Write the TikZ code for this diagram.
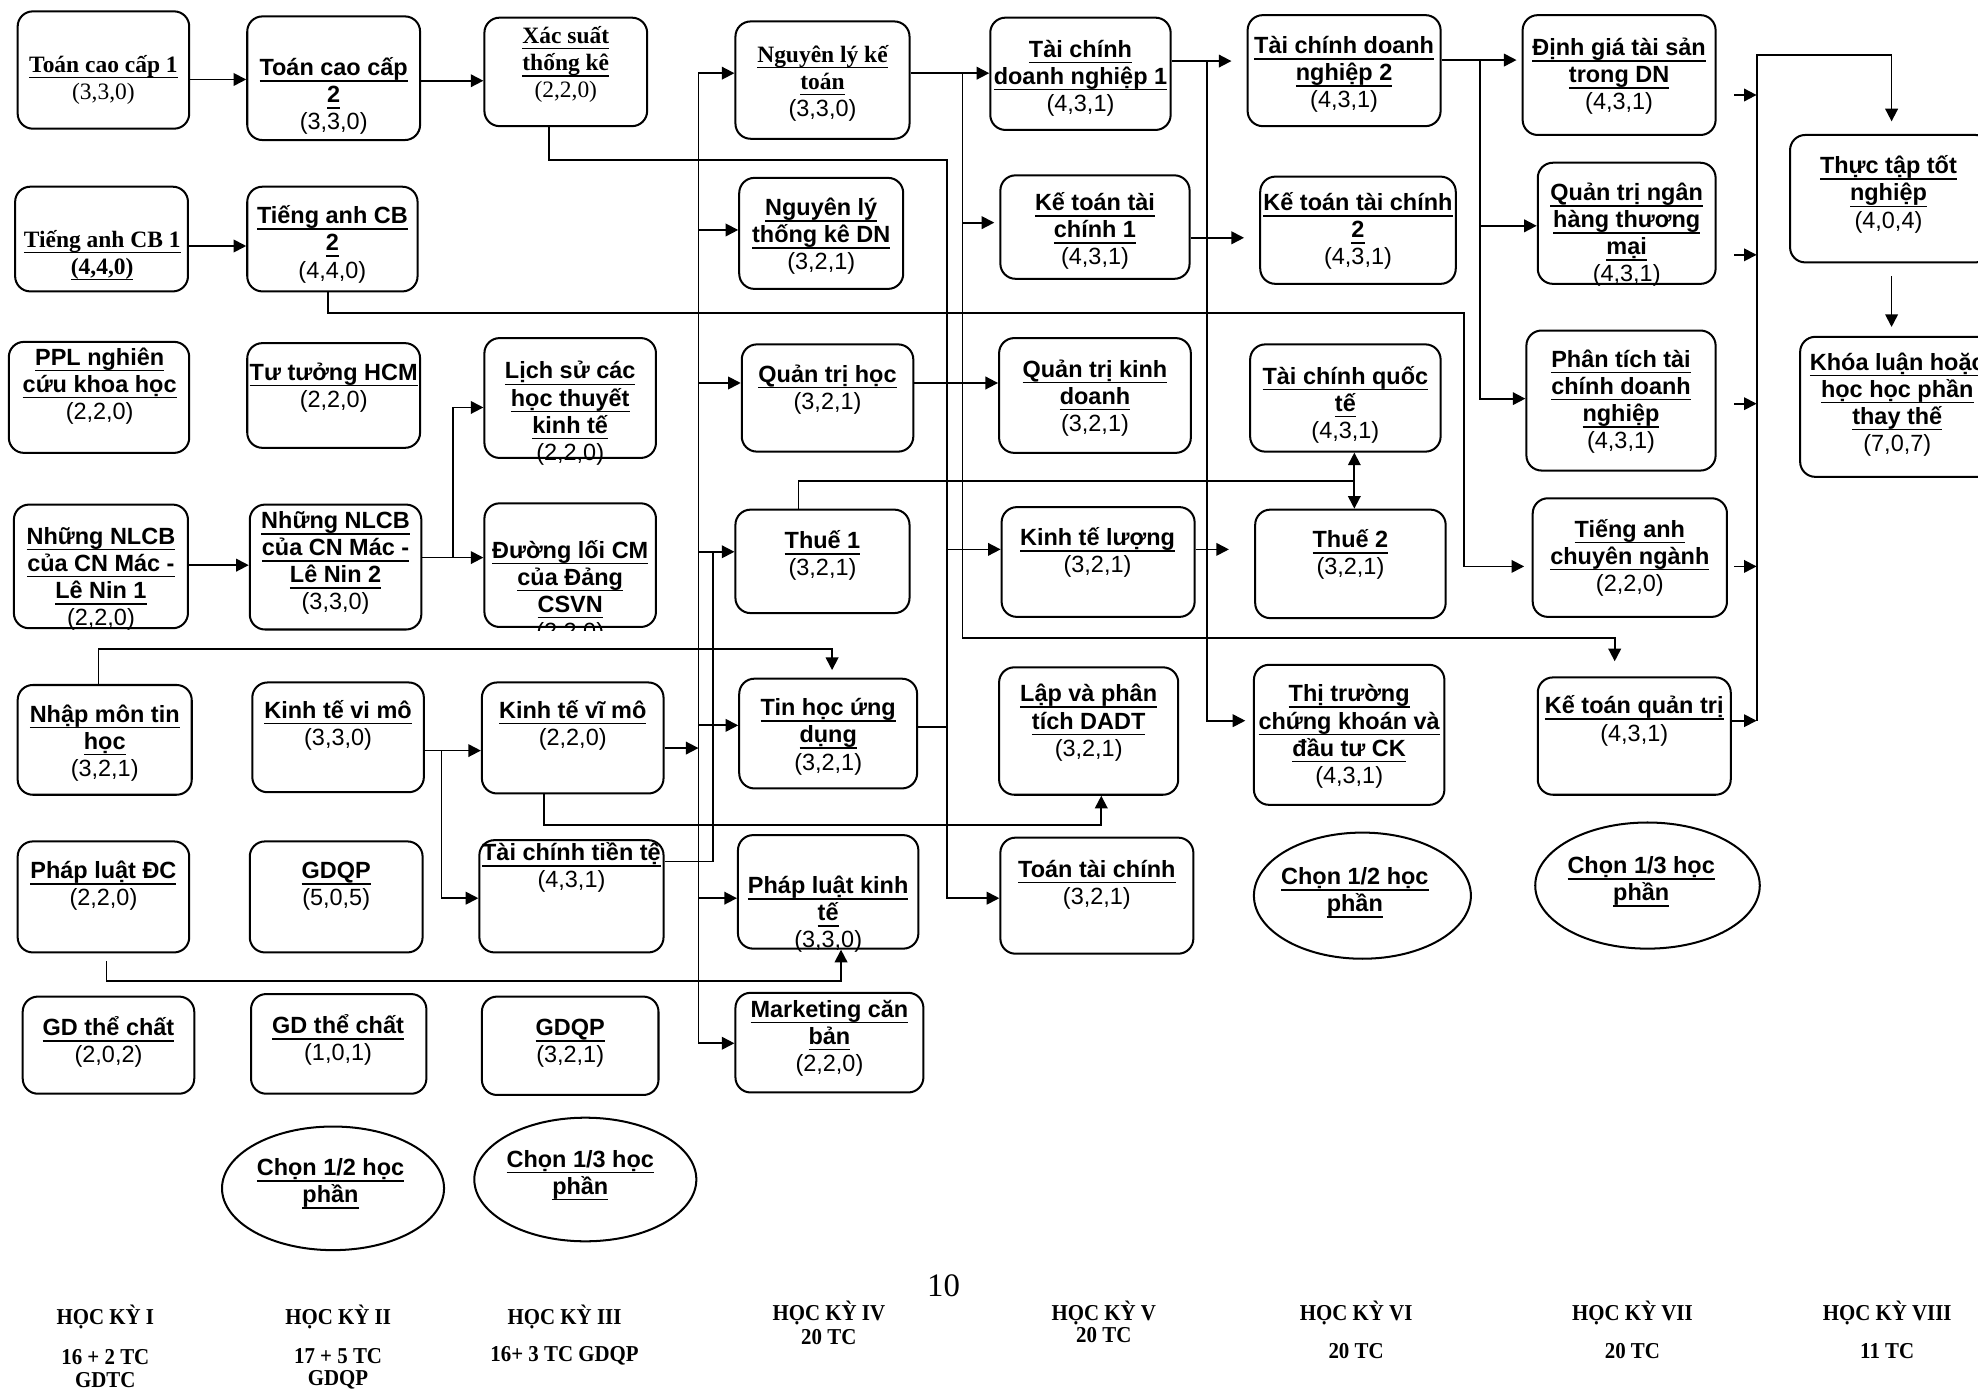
\documentclass[tikz,border=0pt]{standalone}
\usepackage{fontspec}
\setmainfont{Liberation Sans}
\newfontfamily\tnr{Liberation Serif}
\newfontfamily\tnrc[FakeStretch=0.92]{Liberation Serif}
\usetikzlibrary{fit,shapes.geometric,arrows.meta}
\lineskiplimit=-20pt
\lineskip=0pt
\newsavebox\ulbox
\newcommand\uln[1]{\sbox\ulbox{#1}\rlap{\raisebox{-2.4pt}{\rule{\wd\ulbox}{0.6pt}}}\usebox\ulbox}
\newcommand\HB[1]{{\bfseries\uln{#1}}}
\newcommand\HT[1]{{\tnr\bfseries\uln{#1}}}
\newcommand\TR[1]{{\tnr #1}}
\newcommand\bx[5]{\path (#2,#3) coordinate (#1-a) (#4,#5) coordinate (#1-b); \node[box, fit=(#1-a)(#1-b)] (#1) {};}
\newcommand\tx[4]{\node[txt] (#1-t) at (#2,#3-20) {\rule{0pt}{10pt}#4};}
\begin{document}
\begin{tikzpicture}[x=0.5pt,y=-0.5pt,
 box/.style={draw, line width=0.8pt, rounded corners=6pt, inner sep=0pt},
 ell/.style={draw, ellipse, line width=0.8pt, inner sep=0pt},
 txt/.style={align=center, inner sep=0pt, anchor=north, font=\fontsize{9.3}{10.75}\selectfont},
 lab/.style={anchor=base, inner sep=0pt, font=\tnrc\bfseries\fontsize{9}{10}\selectfont},
 ln/.style={draw, line width=0.7pt},
 arr/.style={ln, -{Triangle[length=5pt,width=5pt]}}]
\fill[white] (0,0) rectangle (1568,1104);
\useasboundingbox (0,0) rectangle (1568,1104);
\clip (0,0) rectangle (1568,1104);

% ---------- column 1
\bx{tcc1}{14}{9}{150}{102}
\tx{tcc1}{82}{57}{\HT{Toán cao cấp 1}\\\TR{(3,3,0)}}
\bx{tacb1}{12}{148}{149}{231}
\tx{tacb1}{81}{195.5}{\HT{Tiếng anh CB 1}\\\HT{(4,4,0)}}
\bx{ppl}{7}{271}{150}{359}
\tx{ppl}{79}{289}{\HB{PPL nghiên}\\\HB{cứu khoa học}\\(2,2,0)}
\bx{nlcb1}{11}{400}{149}{498}
\tx{nlcb1}{80}{431}{\HB{Những NLCB}\\\HB{của CN Mác -}\\\HB{Lê Nin 1}\\(2,2,0)}
\bx{nmth}{14}{543}{152}{630}
\tx{nmth}{83}{572}{\HB{Nhập môn tin}\\\HB{học}\\(3,2,1)}
\bx{pldc}{14}{667}{150}{755}
\tx{pldc}{82}{696}{\HB{Pháp luật ĐC}\\(2,2,0)}
\bx{gdtc1}{18}{790}{154}{867}
\tx{gdtc1}{86}{820.5}{\HB{GD thể chất}\\(2,0,2)}

% ---------- column 2
\bx{tcc2}{196}{13}{333}{111}
\tx{tcc2}{264.5}{59.5}{\HB{Toán cao cấp}\\\HB{2}\\(3,3,0)}
\bx{tacb2}{196}{148}{331}{231}
\tx{tacb2}{263.5}{177}{\HB{Tiếng anh CB}\\\HB{2}\\(4,4,0)}
\bx{tthcm}{196}{272}{333}{355}
\tx{tthcm}{264.5}{301}{\HB{Tư tưởng HCM}\\(2,2,0)}
\bx{nlcb2}{198}{400}{334}{499}
\tx{nlcb2}{266}{418.6}{\HB{Những NLCB}\\\HB{của CN Mác -}\\\HB{Lê Nin 2}\\(3,3,0)}
\bx{ktvi}{200}{541}{336}{628}
\tx{ktvi}{268}{569}{\HB{Kinh tế vi mô}\\(3,3,0)}
\bx{gdqp2}{198}{667}{335}{755}
\tx{gdqp2}{266.5}{696}{\HB{GDQP}\\(5,0,5)}
\bx{gdtc2}{199}{788}{338}{867}
\tx{gdtc2}{268}{819}{\HB{GD thể chất}\\(1,0,1)}
\node[ell, minimum width=88pt, minimum height=49pt] (e2) at (264,942) {};
\tx{e2}{262}{931.4}{\HB{Chọn 1/2 học}\\\HB{phần}}

% ---------- column 3
\bx{xs}{384}{14}{513}{100}
\tx{xs}{448.5}{34}{\HT{Xác suất}\\\HT{thống kê}\\\TR{(2,2,0)}}
\bx{lsu}{384}{268}{520}{363}
\tx{lsu}{452}{300}{\HB{Lịch sử các}\\\HB{học thuyết}\\\HB{kinh tế}\\(2,2,0)}
\bx{dloi}{384}{399}{520}{497}
\begin{scope}
\clip (380,380) rectangle (525,500);
\tx{dloi}{452}{442}{\HB{Đường lối CM}\\\HB{của Đảng}\\\HB{CSVN}\\(2,2,0)}
\end{scope}
\bx{ktvimo}{382}{541}{526}{629}
\tx{ktvimo}{454}{569}{\HB{Kinh tế vĩ mô}\\(2,2,0)}
\bx{tctt}{380}{666}{526}{755}
\tx{tctt}{453}{681.7}{\HB{Tài chính tiền tệ}\\(4,3,1)}
\bx{gdqp3}{382}{790}{522}{868}
\tx{gdqp3}{452}{820.5}{\HB{GDQP}\\(3,2,1)}
\node[ell, minimum width=88pt, minimum height=49pt] (e3) at (464,935) {};
\tx{e3}{460}{924.8}{\HB{Chọn 1/3 học}\\\HB{phần}}

% ---------- column 4
\bx{nlkt}{583}{17}{721}{110}
\tx{nlkt}{652}{49}{\HT{Nguyên lý kế}\\\HT{toán}\\(3,3,0)}
\bx{nltk}{586}{141}{716}{229}
\tx{nltk}{651}{170.4}{\HB{Nguyên lý}\\\HB{thống kê DN}\\(3,2,1)}
\bx{qth}{588}{273}{724}{358}
\tx{qth}{656}{302.6}{\HB{Quản trị học}\\(3,2,1)}
\bx{thue1}{583}{404}{721}{486}
\tx{thue1}{652}{434.6}{\HB{Thuế 1}\\(3,2,1)}
\bx{thud}{586}{538}{727}{625}
\tx{thud}{656.5}{567}{\HB{Tin học ứng}\\\HB{dụng}\\(3,2,1)}
\bx{plkt}{585}{662}{728}{752}
\tx{plkt}{656.5}{708}{\HB{Pháp luật kinh}\\\HB{tế}\\(3,3,0)}
\bx{mkt}{583}{787}{732}{866}
\tx{mkt}{657.5}{806}{\HB{Marketing căn}\\\HB{bản}\\(2,2,0)}

% ---------- column 5
\bx{tcdn1}{785}{14}{928}{103}
\tx{tcdn1}{856.5}{45}{\HB{Tài chính}\\\HB{doanh nghiệp 1}\\(4,3,1)}
\bx{kttc1}{793}{139}{943}{221}
\tx{kttc1}{868}{166.5}{\HB{Kế toán tài}\\\HB{chính 1}\\(4,3,1)}
\bx{qtkd}{792}{268}{944}{359}
\tx{qtkd}{868}{298.6}{\HB{Quản trị kinh}\\\HB{doanh}\\(3,2,1)}
\bx{ktl}{794}{402}{947}{489}
\tx{ktl}{870}{432}{\HB{Kinh tế lượng}\\(3,2,1)}
\bx{dadt}{792}{529}{934}{630}
\tx{dadt}{863}{556}{\HB{Lập và phân}\\\HB{tích DADT}\\(3,2,1)}
\bx{ttc}{793}{664}{946}{756}
\tx{ttc}{869.5}{695}{\HB{Toán tài chính}\\(3,2,1)}

% ---------- column 6
\bx{tcdn2}{989}{12}{1142}{100}
\tx{tcdn2}{1065.5}{42}{\HB{Tài chính doanh}\\\HB{nghiệp 2}\\(4,3,1)}
\bx{kttc2}{999}{140}{1154}{225}
\tx{kttc2}{1076.5}{166.5}{\HB{Kế toán tài chính}\\\HB{2}\\(4,3,1)}
\bx{tcqt}{991}{273}{1142}{358}
\tx{tcqt}{1066.5}{304}{\HB{Tài chính quốc}\\\HB{tế}\\(4,3,1)}
\bx{thue2}{995}{404}{1146}{490}
\tx{thue2}{1070.5}{433.6}{\HB{Thuế 2}\\(3,2,1)}
\bx{ttck}{994}{527}{1145}{638}
\tx{ttck}{1069.5}{556}{\HB{Thị trường}\\\HB{chứng khoán và}\\\HB{đầu tư CK}\\(4,3,1)}
\node[ell, minimum width=86pt, minimum height=50pt] (e6) at (1080,710) {};
\tx{e6}{1074}{701}{\HB{Chọn 1/2 học}\\\HB{phần}}

% ---------- column 7
\bx{dinhgia}{1207}{12}{1360}{107}
\tx{dinhgia}{1283.5}{43.6}{\HB{Định giá tài sản}\\\HB{trong DN}\\(4,3,1)}
\bx{qtnh}{1219}{129}{1360}{225}
\tx{qtnh}{1289.5}{158.5}{\HB{Quản trị ngân}\\\HB{hàng thương}\\\HB{mại}\\(4,3,1)}
\bx{pttc}{1210}{262}{1360}{373}
\tx{pttc}{1285}{290.7}{\HB{Phân tích tài}\\\HB{chính doanh}\\\HB{nghiệp}\\(4,3,1)}
\bx{tacn}{1215}{395}{1369}{489}
\tx{tacn}{1292}{425.4}{\HB{Tiếng anh}\\\HB{chuyên ngành}\\(2,2,0)}
\bx{ktqt}{1219}{537}{1372}{630}
\tx{ktqt}{1295.5}{565.5}{\HB{Kế toán quản trị}\\(4,3,1)}
\node[ell, minimum width=89pt, minimum height=50pt] (e7) at (1306,702) {};
\tx{e7}{1301}{692}{\HB{Chọn 1/3 học}\\\HB{phần}}

% ---------- column 8
\bx{thuctap}{1419}{107}{1578}{208}
\tx{thuctap}{1497}{137.4}{\HB{Thực tập tốt}\\\HB{nghiệp}\\(4,0,4)}
\bx{khoaluan}{1427}{267}{1582}{378}
\tx{khoaluan}{1504}{293}{\HB{Khóa luận hoặc}\\\HB{học học phần}\\\HB{thay thế}\\(7,0,7)}

% ---------- connectors, columns 1-3
\draw[arr] (tcc1.east |- 0,63) -- (tcc2.west |- 0,63);
\draw[arr] (tcc2.east |- 0,64) -- (xs.west |- 0,64);
\draw[arr] (tacb1.east |- 0,195) -- (tacb2.west |- 0,195);
\draw[arr] (nlcb1.east |- 0,448) -- (nlcb2.west |- 0,448);
\draw[arr] (nlcb2.east |- 0,442) -- (dloi.west |- 0,442);
\coordinate (j1) at (359,442);
\draw[arr] (j1) |- (lsu.west |- 0,323);
\draw[arr] (ktvi.east |- 0,595) -- (ktvimo.west |- 0,595);
\coordinate (j2) at (350,595);
\draw[arr] (j2) |- (tctt.west |- 0,712);

% XS line (bus at x=750.5)
\draw[arr] (xs.south -| 435,0) -- (435,127) -- (750.5,127) |- (ttc.west |- 0,712);
\draw[arr] (750.5,435.5) -- (ktl.west |- 0,435.5);
\draw[ln] (thud.east |- 0,576.5) -- (750.5,576.5);

% main bus at x=553.7
\draw[arr] (ktvimo.east |- 0,593) -- (553.7,593);
\draw[ln] (553.7,58) -- (553.7,827);
\foreach \n/\yy in {nlkt/58, nltk/182.3, qth/303.6, thue1/437.4, thud/575, plkt/712, mkt/827}
  \draw[arr] (553.7,\yy) -- (\n.west |- 0,\yy);
\draw[ln] (tctt.east |- 0,683) -- (565,683) -- (565,437.4);

% NLKT bus at x=763
\draw[arr] (nlkt.east |- 0,58) -- (tcdn1.west |- 0,58);
\draw[arr, shorten >=2pt] (763,58) |- (kttc1.west |- 0,176.5);
\draw[arr, shorten >=6pt] (763,176.5) -- (763,506) -| (ktqt.north -| 1280,0);

% Thue 1 line
\draw[ln] (thue1.north -| 633,0) -- (633,381) -- (1073.6,381);
\draw[arr] (1073.6,381) -- (tcqt.south -| 1073.6,0);
\draw[arr] (1073.6,381) -- (thue2.north -| 1073.6,0);

% columns 5-6
\draw[arr] (qth.east |- 0,303.6) -- (qtkd.west |- 0,303.6);
\draw[arr, shorten >=10pt] (ktl.east |- 0,435.5) -- (thue2.west |- 0,435.5);
\draw[arr, shorten >=6pt] (tcdn1.east |- 0,48.4) -- (tcdn2.west |- 0,48.4);
\draw[arr, shorten >=3pt] (956.5,48.4) |- (ttck.west |- 0,571.3);
\draw[arr, shorten >=6pt] (kttc1.east |- 0,188.5) -- (kttc2.west |- 0,188.5);

% Tieng anh CB 2 line
\draw[arr, shorten >=3pt] (tacb2.south -| 260,0) -- (260,248) -- (1160.5,248) |- (tacn.west |- 0,449);

% TCDN2 bus at x=1173
\draw[arr, shorten >=2pt] (tcdn2.east |- 0,47.6) -- (dinhgia.west |- 0,47.6);
\draw[arr] (1173,47.6) |- (pttc.west |- 0,316);
\draw[arr] (1173,179) -- (qtnh.west |- 0,179);

% right bus at x=1392.5
\draw[ln] (1392.5,571.3) -- (1392.5,43.6) -- (1499.5,43.6);
\draw[arr, shorten >=5pt] (1499.5,43.6) -- (thuctap.north -| 1499.5,0);
\draw[arr, shorten <=7pt] (dinhgia.east |- 0,75.3) -- (1392.5,75.3);
\draw[arr, shorten <=7pt] (qtnh.east |- 0,202) -- (1392.5,202);
\draw[arr, shorten <=7pt] (pttc.east |- 0,320) -- (1392.5,320);
\draw[arr, shorten <=2.5pt] (tacn.east |- 0,449) -- (1392.5,449);
\draw[arr] (ktqt.east |- 0,571.3) -- (1392.5,571.3);
\draw[arr, shorten <=5pt, shorten >=3.5pt] (thuctap.south -| 1499.5,0) -- (khoaluan.north -| 1499.5,0);

% long lines from the lower left
\draw[arr, shorten >=3pt] (nmth.north -| 78,0) -- (78,514.6) -| (thud.north -| 659.6,0);
\draw[arr] (ktvimo.south -| 431,0) -- (431,654) -| (dadt.south -| 873,0);
\draw[arr, shorten <=3pt] (pldc.south -| 84.4,0) -- (84.4,777.7) -| (plkt.south -| 666.7,0);

% ---------- semester labels
\node[lab] (s1a) at (83.5,1050) {HỌC KỲ I};
\node[lab] (s1b) at (83.5,1082) {16 + 2 TC};
\node[lab] (s1c) at (83.5,1100) {GDTC};
\node[lab] (s2a) at (268,1050) {HỌC KỲ II};
\node[lab] (s2b) at (268,1080.7) {17 + 5 TC};
\node[lab] (s2c) at (268,1098) {GDQP};
\node[lab] (s3a) at (447.5,1050) {HỌC KỲ III};
\node[lab] (s3b) at (447.5,1079.4) {16+ 3 TC GDQP};
\node[lab] (s4a) at (657,1046.4) {HỌC KỲ IV};
\node[lab] (s4b) at (657,1066) {20 TC};
\node[lab] (s5a) at (875,1046.4) {HỌC KỲ V};
\node[lab] (s5b) at (875,1064.6) {20 TC};
\node[lab] (s6a) at (1075,1046.4) {HỌC KỲ VI};
\node[lab] (s6b) at (1075,1076.6) {20 TC};
\node[lab] (s7a) at (1294,1046.4) {HỌC KỲ VII};
\node[lab] (s7b) at (1294,1076.6) {20 TC};
\node[lab] (s8a) at (1496,1046.4) {HỌC KỲ VIII};
\node[lab] (s8b) at (1496,1076.6) {11 TC};
\node[anchor=base, inner sep=0pt, font=\tnr\fontsize{13}{14}\selectfont] (pg) at (748,1028) {10};
\end{tikzpicture}
\end{document}
